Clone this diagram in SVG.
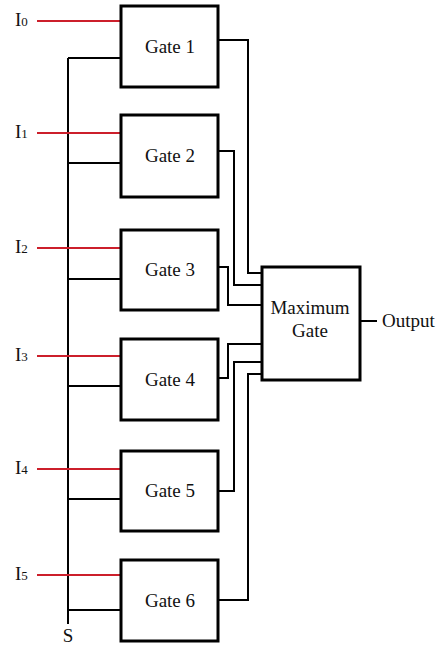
<svg xmlns="http://www.w3.org/2000/svg" width="440" height="648" viewBox="0 0 440 648">
<style>
.box{fill:#fff;stroke:#000;stroke-width:3}
.wire{fill:none;stroke:#000;stroke-width:2}
.red{fill:none;stroke:#cc1f2b;stroke-width:2}
.t{font-family:"Liberation Serif","Times New Roman",serif;font-size:19px;fill:#111}
.lbl{text-anchor:middle}
.sub{font-size:13px}
</style>
<rect width="440" height="648" fill="#fff"/>
<g id="connectors">
<path class="wire" d="M68,58 V624"/>
<path class="wire" d="M68,58 H121 M68,163 H121 M68,279 H121 M68,386 H121 M68,499 H121 M68,610 H121"/>
<path class="wire" d="M218,40 H248 V273 H262"/>
<path class="wire" d="M218,151 H234 V285 H262"/>
<path class="wire" d="M218,267 H228 V305 H262"/>
<path class="wire" d="M218,378 H228 V344 H262"/>
<path class="wire" d="M218,491 H234 V362 H262"/>
<path class="wire" d="M218,600 H248 V374 H262"/>
<path class="wire" d="M360,321 H377"/>
<path class="red" d="M37,21 H121 M37,133 H121 M37,248 H121 M37,356 H121 M37,469 H121 M37,575 H121"/>
</g>
<g id="inputs">
<text class="t" x="15" y="26">I<tspan class="sub">0</tspan></text>
<text class="t" x="15" y="138">I<tspan class="sub">1</tspan></text>
<text class="t" x="15" y="253">I<tspan class="sub">2</tspan></text>
<text class="t" x="15" y="361">I<tspan class="sub">3</tspan></text>
<text class="t" x="15" y="474">I<tspan class="sub">4</tspan></text>
<text class="t" x="15" y="580">I<tspan class="sub">5</tspan></text>
<text class="t lbl" x="68" y="642" font-size="18">S</text>
</g>
<g id="gate1"><rect class="box" x="121" y="6" width="97" height="81"/><text class="t lbl" x="170" y="53">Gate 1</text></g>
<g id="gate2"><rect class="box" x="121" y="115" width="97" height="82"/><text class="t lbl" x="170" y="162">Gate 2</text></g>
<g id="gate3"><rect class="box" x="121" y="230" width="97" height="80"/><text class="t lbl" x="170" y="276">Gate 3</text></g>
<g id="gate4"><rect class="box" x="121" y="339" width="97" height="81"/><text class="t lbl" x="170" y="386">Gate 4</text></g>
<g id="gate5"><rect class="box" x="121" y="451" width="97" height="80"/><text class="t lbl" x="170" y="497">Gate 5</text></g>
<g id="gate6"><rect class="box" x="121" y="560" width="97" height="81"/><text class="t lbl" x="170" y="607">Gate 6</text></g>
<g id="maxgate"><rect class="box" x="262" y="267" width="98" height="113"/><text class="t lbl" x="310" y="314">Maximum</text><text class="t lbl" x="310" y="337">Gate</text></g>
<g id="output"><text class="t" x="382" y="327">Output</text></g>
</svg>
